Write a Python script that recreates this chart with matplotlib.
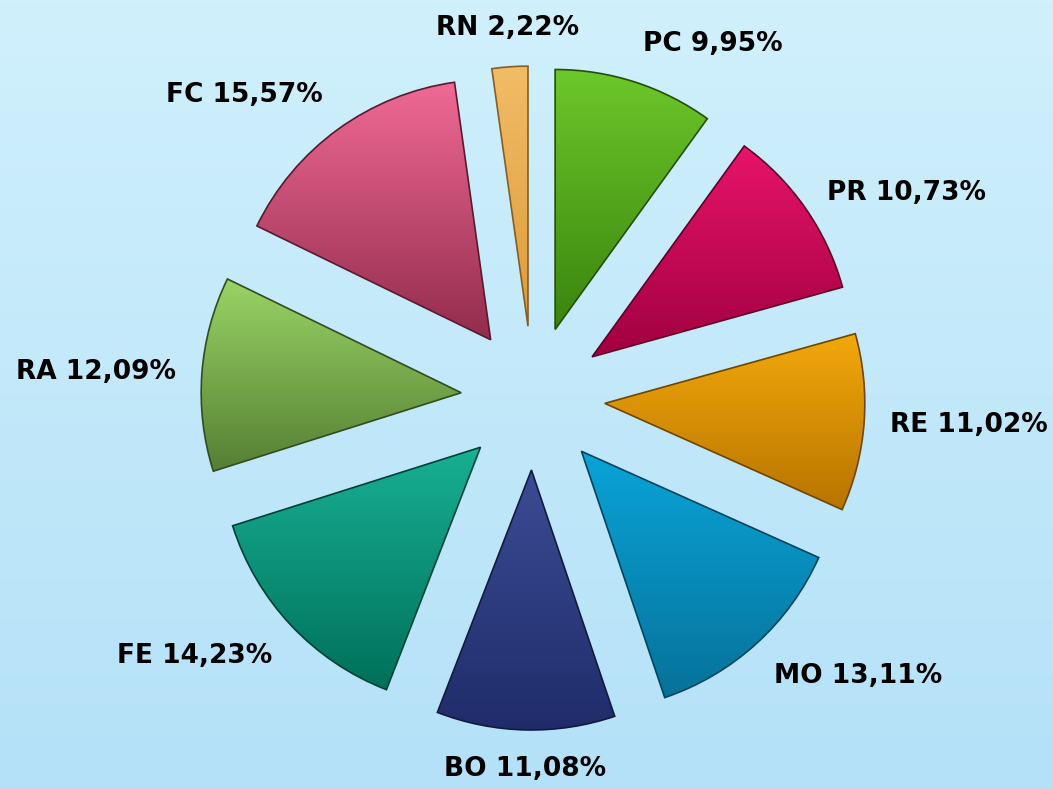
import numpy as np
import matplotlib.pyplot as plt
import matplotlib.colors as mcolors

# slice data, clockwise from 12 o'clock
names = ["PC", "PR", "RE", "MO", "BO", "FE", "RA", "FC", "RN"]
shares = [9.95, 10.73, 11.02, 13.11, 11.08, 14.23, 12.09, 15.57, 2.22]
top_colors = ["#6cc82a", "#e8146a", "#f2a80c", "#0aa4d8", "#3a4c94",
              "#18b094", "#9ad466", "#f06a96", "#f2bc66"]
bottom_colors = ["#3a840e", "#a00040", "#b87400", "#06729a", "#202c6a",
                 "#00705a", "#557f33", "#922c4c", "#dc9c3c"]

labels = [f"{n} {v:.2f}".replace(".", ",") + "%" for n, v in zip(names, shares)]

fig = plt.figure(figsize=(10.53, 7.89), dpi=100)
ax = fig.add_axes([0, 0, 1, 1])

xlim = (-533, 520)
ylim = (-391, 398)

# background gradient
bg = mcolors.LinearSegmentedColormap.from_list("bg", ["#b4e1f8", "#d0f0fc"])
ax.imshow(np.linspace(0, 1, 256).reshape(-1, 1), cmap=bg, origin="lower",
          extent=(*xlim, *ylim), aspect="auto", zorder=0)

wedges, texts = ax.pie(
    shares,
    labels=labels,
    startangle=90,
    counterclock=False,
    radius=260,
    explode=[72] * len(shares),
    labeldistance=1.10,
    textprops=dict(fontsize=19, fontweight="bold", color="black"),
)

# gradient fill per wedge (light top -> dark bottom)
grad = np.linspace(0, 1, 256).reshape(-1, 1)
for w, t, c1, c2 in zip(wedges, texts, top_colors, bottom_colors):
    verts = w.get_path().vertices
    x0, y0 = verts.min(axis=0)
    x1, y1 = verts.max(axis=0)
    cm = mcolors.LinearSegmentedColormap.from_list("w", [c2, c1])
    im = ax.imshow(grad, cmap=cm, origin="lower", extent=(x0, x1, y0, y1),
                   aspect="auto", zorder=2)
    im.set_clip_path(w)
    w.set_facecolor("none")
    w.set_edgecolor(mcolors.to_hex(np.array(mcolors.to_rgb(c2)) * 0.6))
    w.set_linewidth(1.2)
    w.set_zorder(3)

    # label anchoring like the original (outside end)
    mid = np.deg2rad((w.theta1 + w.theta2) / 2)
    if abs(np.cos(mid)) < 0.15:
        t.set_horizontalalignment("center")
    if np.sin(mid) > 0.6:
        t.set_verticalalignment("bottom")
    elif np.sin(mid) < -0.6:
        t.set_verticalalignment("top")

ax.set_xlim(*xlim)
ax.set_ylim(*ylim)
ax.set_aspect("auto")
ax.axis("off")

fig.savefig("out.png", dpi=100)
